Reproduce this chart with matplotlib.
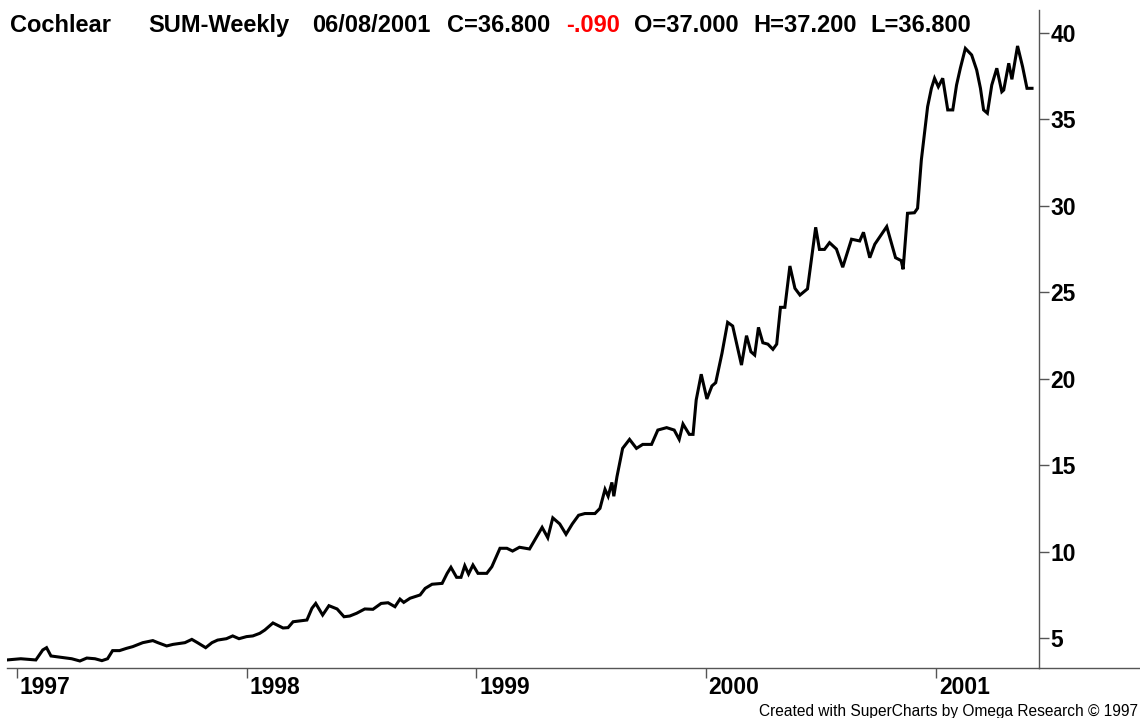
import matplotlib
matplotlib.use("Agg")
import matplotlib.pyplot as plt
from matplotlib.lines import Line2D
from matplotlib.transforms import ScaledTranslation, blended_transform_factory
import pandas as pd

# ---------------- data ----------------
dates = [
    "1996-12-16", "1997-01-07", "1997-01-31", "1997-02-11", "1997-02-17", "1997-02-24",
    "1997-03-13", "1997-03-29", "1997-04-11", "1997-04-22", "1997-05-05", "1997-05-16",
    "1997-05-25", "1997-06-02", "1997-06-13", "1997-06-24", "1997-07-04", "1997-07-20",
    "1997-08-05", "1997-08-13", "1997-08-27", "1997-09-06", "1997-09-25", "1997-10-06",
    "1997-10-15", "1997-10-28", "1997-11-07", "1997-11-16", "1997-11-30", "1997-12-10",
    "1997-12-20", "1998-01-01", "1998-01-11", "1998-01-22", "1998-01-30", "1998-02-12",
    "1998-02-28", "1998-03-08", "1998-03-16", "1998-04-07", "1998-04-15", "1998-04-21",
    "1998-05-02", "1998-05-12", "1998-05-25", "1998-06-05", "1998-06-14", "1998-06-25",
    "1998-07-08", "1998-07-21", "1998-08-03", "1998-08-14", "1998-08-25", "1998-09-02",
    "1998-09-08", "1998-09-18", "1998-10-04", "1998-10-12", "1998-10-23", "1998-11-08",
    "1998-11-16", "1998-11-22", "1998-12-01", "1998-12-08", "1998-12-14", "1998-12-20",
    "1998-12-27", "1999-01-04", "1999-01-18", "1999-01-26", "1999-02-08", "1999-02-19",
    "1999-02-28", "1999-03-11", "1999-03-27", "1999-04-08", "1999-04-16", "1999-04-25",
    "1999-05-03", "1999-05-14", "1999-05-24", "1999-06-03", "1999-06-13", "1999-06-23",
    "1999-07-09", "1999-07-17", "1999-07-25", "1999-07-30", "1999-08-05", "1999-08-08",
    "1999-08-13", "1999-08-22", "1999-09-02", "1999-09-13", "1999-09-23", "1999-10-07",
    "1999-10-17", "1999-10-31", "1999-11-12", "1999-11-20", "1999-11-26", "1999-12-06",
    "1999-12-12", "1999-12-17", "1999-12-25", "2000-01-03", "2000-01-11", "2000-01-17",
    "2000-01-27", "2000-02-05", "2000-02-13", "2000-02-27", "2000-03-06", "2000-03-13",
    "2000-03-19", "2000-03-25", "2000-04-01", "2000-04-09", "2000-04-17", "2000-04-23",
    "2000-04-29", "2000-05-06", "2000-05-14", "2000-05-22", "2000-05-30", "2000-06-11",
    "2000-06-24", "2000-06-30", "2000-07-08", "2000-07-16", "2000-07-27", "2000-08-06",
    "2000-08-20", "2000-09-02", "2000-09-08", "2000-09-18", "2000-09-26", "2000-10-15",
    "2000-10-29", "2000-11-07", "2000-11-10", "2000-11-17", "2000-11-28", "2000-12-03",
    "2000-12-09", "2000-12-14", "2000-12-19", "2000-12-25", "2000-12-30", "2001-01-05",
    "2001-01-12", "2001-01-20", "2001-01-28", "2001-02-03", "2001-02-09", "2001-02-17",
    "2001-02-27", "2001-03-07", "2001-03-13", "2001-03-18", "2001-03-24", "2001-03-31",
    "2001-04-08", "2001-04-16", "2001-04-19", "2001-04-27", "2001-05-02", "2001-05-11",
    "2001-05-19", "2001-05-26", "2001-06-03",
]
prices = [
    3.73, 3.80, 3.73, 4.31, 4.44, 3.96,
    3.88, 3.80, 3.67, 3.84, 3.80, 3.69,
    3.80, 4.27, 4.27, 4.40, 4.50, 4.73,
    4.85, 4.73, 4.54, 4.63, 4.73, 4.92,
    4.73, 4.44, 4.73, 4.88, 4.96, 5.12,
    4.96, 5.08, 5.12, 5.27, 5.46, 5.87,
    5.58, 5.60, 5.94, 6.04, 6.72, 7.00,
    6.33, 6.87, 6.68, 6.23, 6.27, 6.43,
    6.68, 6.66, 7.00, 7.04, 6.81, 7.25,
    7.06, 7.30, 7.49, 7.87, 8.11, 8.16,
    8.74, 9.09, 8.51, 8.51, 9.18, 8.70,
    9.22, 8.74, 8.74, 9.12, 10.19, 10.19,
    10.03, 10.25, 10.15, 10.90, 11.40, 10.80,
    11.95, 11.60, 11.00, 11.60, 12.10, 12.20,
    12.20, 12.50, 13.60, 13.20, 14.00, 13.20,
    14.33, 15.97, 16.49, 15.97, 16.20, 16.20,
    17.03, 17.17, 17.03, 16.49, 17.38, 16.78,
    16.78, 18.77, 20.26, 18.83, 19.58, 19.77,
    21.47, 23.26, 23.05, 20.79, 22.49, 21.56,
    21.37, 22.97, 22.08, 22.00, 21.70, 22.00,
    24.13, 24.13, 26.52, 25.23, 24.84, 25.20,
    28.76, 27.48, 27.48, 27.87, 27.50, 26.45,
    28.07, 27.97, 28.47, 27.00, 27.78, 28.80,
    27.00, 26.83, 26.33, 29.57, 29.60, 29.86,
    32.65, 34.20, 35.74, 36.80, 37.38, 36.89,
    37.38, 35.55, 35.55, 36.99, 37.96, 39.11,
    38.73, 37.86, 36.80, 35.55, 35.36, 36.99,
    37.96, 36.60, 36.70, 38.25, 37.32, 39.25,
    38.05, 36.80, 36.80,
]
year_labels = ["1997", "1998", "1999", "2000", "2001"]
price_ticks = [5, 10, 15, 20, 25, 30, 35, 40]

header_parts = ["Cochlear", "SUM-Weekly", "06/08/2001", "C=36.800", "-.090",
                "O=37.000", "H=37.200", "L=36.800"]
footer = "Created with SuperCharts by Omega Research \u00a9 1997"

# ---------------- layout ----------------
W, H = 1140, 718
def fx(px):
    return px / W
def fy(py):
    return 1 - py / H

FONT = "Liberation Sans"
GRAY = "#555555"

fig = plt.figure(figsize=(W / 100, H / 100), dpi=100)
fig.patch.set_facecolor("white")
ax = fig.add_axes([fx(7), fy(668), fx(1039) - fx(7), fy(10) - fy(668)])

d = pd.to_datetime(dates)
ax.plot(d, prices, color="black", lw=2.2, solid_joinstyle="miter")

t0 = pd.Timestamp("1997-01-01")
px_per_day = 229.7 / 365.25
ax.set_xlim(t0 - pd.Timedelta(days=(17 - 7) / px_per_day),
            t0 + pd.Timedelta(days=(1039 - 17) / px_per_day))
ax.set_ylim(5 - 30 / 17.286, 40 + 23 / 17.286)

for s in ["left", "top"]:
    ax.spines[s].set_visible(False)
for s in ["right", "bottom"]:
    ax.spines[s].set_color(GRAY)
    ax.spines[s].set_linewidth(1.0)

# y axis on the right
ax.yaxis.tick_right()
ax.set_yticks(price_ticks)
ax.set_yticklabels([str(v) for v in price_ticks], fontsize=16.5,
                   fontweight="bold", family=FONT)
ax.tick_params(axis="y", direction="out", length=7.2, width=1.0,
               color=GRAY, pad=1)

# x axis: year ticks with labels to the right
year_pos = pd.to_datetime([y + "-01-01" for y in year_labels])
ax.set_xticks(year_pos)
ax.set_xticklabels([])
ax.tick_params(axis="x", direction="out", length=7.2, width=1.0, color=GRAY)
trans = blended_transform_factory(ax.transData, ax.transAxes) + \
    ScaledTranslation(3 / 100, -8 / 100, fig.dpi_scale_trans)
for pos, lab in zip(year_pos, year_labels):
    ax.text(pos, 0, lab, transform=trans, ha="left", va="top",
            fontsize=16.5, fontweight="bold", family=FONT)

# bottom line continues beyond the price axis
fig.add_artist(Line2D([fx(1039), 1.0], [fy(668), fy(668)],
                      transform=fig.transFigure, color=GRAY, lw=1.0))

# header
header_x = [10, 148, 312, 447, 566, 634, 753, 870]
for xpos, txt in zip(header_x, header_parts):
    col = "#ff0000" if txt.startswith("-") else "black"
    fig.text(fx(xpos), fy(32), txt, ha="left", va="baseline",
             fontsize=17, fontweight="bold", family=FONT, color=col)

fig.text(fx(1138), fy(716), footer, ha="right", va="baseline",
         fontsize=11.2, family=FONT, color="black")

fig.savefig("out.png", dpi=100, facecolor="white")
